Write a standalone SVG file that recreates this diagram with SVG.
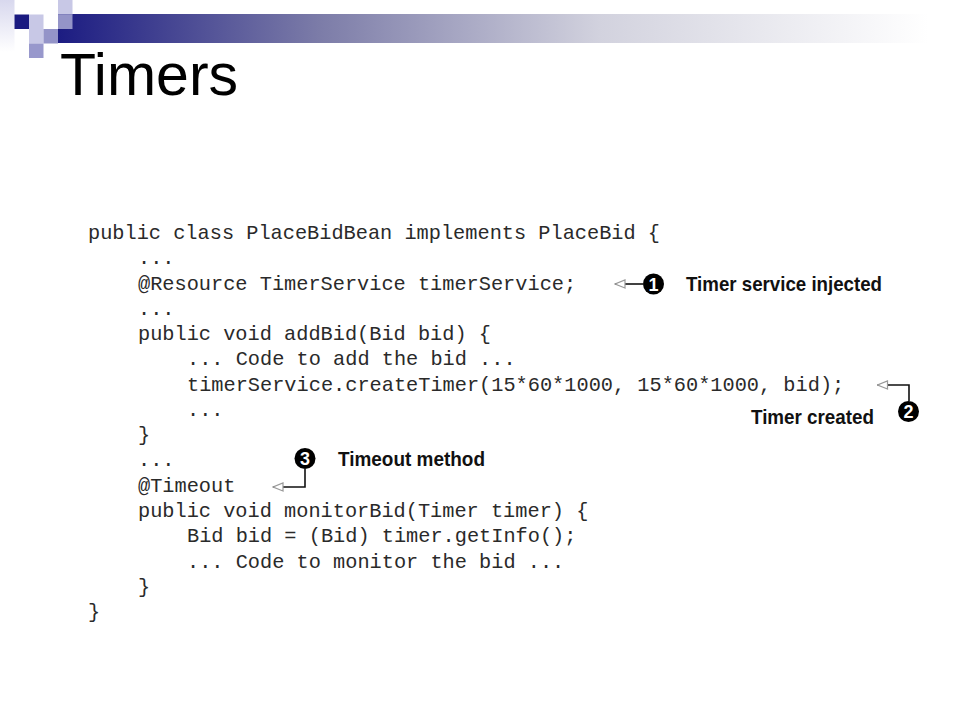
<svg xmlns="http://www.w3.org/2000/svg" width="960" height="720" viewBox="0 0 960 720">
<defs>
<linearGradient id="bar" x1="58" y1="0" x2="960" y2="0" gradientUnits="userSpaceOnUse">
<stop offset="0" stop-color="#1c1c82"/>
<stop offset="0.29" stop-color="#7c7ca8"/>
<stop offset="0.6" stop-color="#d2d2de"/>
<stop offset="0.965" stop-color="#ffffff"/>
</linearGradient>
<linearGradient id="col" x1="0" y1="0" x2="0" y2="1">
<stop offset="0" stop-color="#d8d8ee"/>
<stop offset="1" stop-color="#ffffff"/>
</linearGradient>
<marker id="open" viewBox="0 0 12 10" refX="11" refY="5" markerWidth="12" markerHeight="10" markerUnits="userSpaceOnUse" orient="auto">
<path d="M1,1 L11,5 L1,9 Z" fill="#ffffff" stroke="#999999" stroke-width="1.2"/>
</marker>
<style>
.code{font-family:"Liberation Mono","Courier New",monospace;font-size:20.3px;fill:#2a2a2a}
.lbl{font-family:"Liberation Sans",Arial,sans-serif;font-weight:bold;font-size:21px;fill:#111111}
.num{font-family:"Liberation Sans",Arial,sans-serif;font-weight:bold;font-size:18px;fill:#ffffff;text-anchor:middle}
.lead{fill:none;stroke:#111111;stroke-width:1.6}
</style>
</defs>
<rect width="960" height="720" fill="#ffffff"/>
<g id="header">
<rect x="0" y="0" width="14.5" height="52" fill="url(#col)"/>
<rect x="58" y="14" width="902" height="29" fill="url(#bar)"/>
<rect x="14.5" y="14.5" width="14.5" height="14.5" fill="#1a1a80"/>
<rect x="29" y="14.5" width="14.5" height="14.5" fill="#c8c8e6"/>
<rect x="58" y="0" width="14.5" height="14.5" fill="#c8c8e6"/>
<rect x="58" y="14.5" width="14.5" height="14.5" fill="#9494c8"/>
<rect x="29" y="29" width="14.5" height="14.5" fill="#c8c8e6"/>
<rect x="43.5" y="29" width="14.5" height="14.5" fill="#9494c8"/>
<rect x="29" y="43.5" width="14.5" height="14.5" fill="#9898cc"/>
<text x="60" y="95" font-family="'Liberation Sans',Arial,sans-serif" font-size="59" fill="#000000">Timers</text>
</g>
<g id="code">
<text class="code" x="88" y="239">public class PlaceBidBean implements PlaceBid {</text>
<text class="code" x="138" y="264.3">...</text>
<text class="code" x="138" y="289.5">@Resource TimerService timerService;</text>
<text class="code" x="138" y="314.8">...</text>
<text class="code" x="138" y="340.1">public void addBid(Bid bid) {</text>
<text class="code" x="187" y="365.4">... Code to add the bid ...</text>
<text class="code" x="187" y="390.6">timerService.createTimer(15*60*1000, 15*60*1000, bid);</text>
<text class="code" x="187" y="415.9">...</text>
<text class="code" x="138" y="441.2">}</text>
<text class="code" x="138" y="466.4">...</text>
<text class="code" x="138" y="491.7">@Timeout</text>
<text class="code" x="138" y="517">public void monitorBid(Timer timer) {</text>
<text class="code" x="187" y="542.2">Bid bid = (Bid) timer.getInfo();</text>
<text class="code" x="187" y="567.5">... Code to monitor the bid ...</text>
<text class="code" x="138" y="592.8">}</text>
<text class="code" x="88" y="618">}</text>
</g>
<g id="connectors">
<path class="lead" d="M643,284 L615,284" marker-end="url(#open)"/>
<path class="lead" d="M909,401 L909,385 L877.5,385" marker-end="url(#open)"/>
<path class="lead" d="M305,469 L305,487 L273,487" marker-end="url(#open)"/>
</g>
<g id="callout1">
<circle cx="653.5" cy="284" r="10.5" fill="#000000"/>
<text class="num" x="653.5" y="290.5">1</text>
<text class="lbl" x="686" y="291" textLength="196" lengthAdjust="spacingAndGlyphs">Timer service injected</text>
</g>
<g id="callout2">
<circle cx="908.5" cy="411.5" r="10.5" fill="#000000"/>
<text class="num" x="908.5" y="418">2</text>
<text class="lbl" x="751" y="424" textLength="123" lengthAdjust="spacingAndGlyphs">Timer created</text>
</g>
<g id="callout3">
<circle cx="305" cy="458.5" r="10.5" fill="#000000"/>
<text class="num" x="305" y="465">3</text>
<text class="lbl" x="338" y="466" textLength="147" lengthAdjust="spacingAndGlyphs">Timeout method</text>
</g>
</svg>
